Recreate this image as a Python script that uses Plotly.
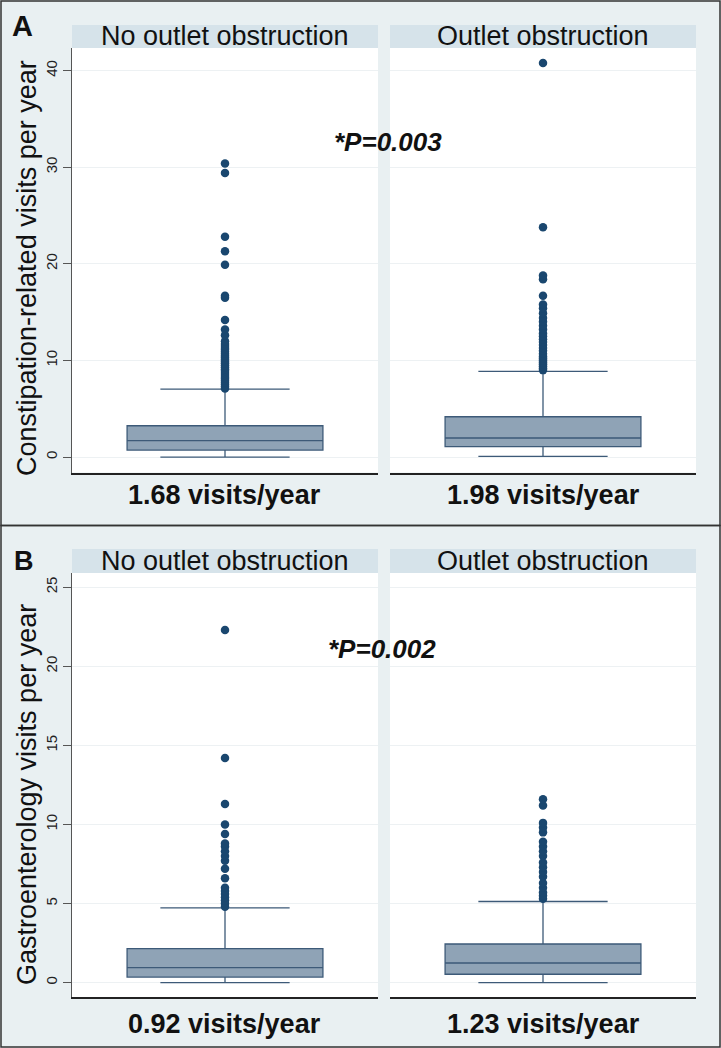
import plotly.graph_objects as go

# ---------------- data ----------------
groups = ["No outlet obstruction", "Outlet obstruction"]

# Panel A: constipation-related visits per year
a_q1 = [0.72, 1.07]
a_median = [1.69, 1.97]
a_q3 = [3.24, 4.17]
a_lower = [0.0, 0.07]
a_upper = [7.04, 8.87]
a_outliers_no = [7.1, 7.3, 7.5, 7.7, 7.9, 8.1, 8.3, 8.5, 8.7, 8.9, 9.1, 9.3, 9.5, 9.7,
                 9.9, 10.1, 10.3, 10.5, 10.7, 10.9, 11.1, 11.3, 11.5, 11.7, 12.0, 12.6,
                 13.2, 14.2, 16.5, 16.7, 19.9, 21.3, 22.8, 29.4, 30.4]
a_outliers_yes = [9.0, 9.2, 9.4, 9.6, 9.8, 10.0, 10.2, 10.4, 10.7, 11.0, 11.3, 11.6,
                  11.9, 12.2, 12.5, 12.8, 13.2, 13.6, 14.0, 14.4, 14.9, 15.4, 15.8,
                  16.7, 18.4, 18.8, 23.8, 40.8]
a_means_text = ["1.68 visits/year", "1.98 visits/year"]
a_p = "*P=0.003"
a_ticks = [0, 10, 20, 30, 40]

# Panel B: gastroenterology visits per year
b_q1 = [0.35, 0.53]
b_median = [0.95, 1.24]
b_q3 = [2.15, 2.44]
b_lower = [0.0, 0.0]
b_upper = [4.72, 5.13]
b_outliers_no = [4.8, 5.0, 5.2, 5.4, 5.6, 5.8, 6.0, 6.6, 7.2, 7.7, 8.0, 8.3, 8.6, 8.8,
                 9.4, 10.0, 11.3, 14.2, 22.3]
b_outliers_yes = [5.3, 5.5, 5.7, 6.0, 6.3, 6.7, 7.0, 7.3, 7.6, 8.0, 8.3, 8.6, 8.9,
                  9.5, 9.8, 10.1, 11.2, 11.6]
b_means_text = ["0.92 visits/year", "1.23 visits/year"]
b_p = "*P=0.002"
b_ticks = [0, 5, 10, 15, 20, 25]

a_title = "Constipation-related visits per year"
b_title = "Gastroenterology visits per year"
panel_labels = ["A", "B"]

# ---------------- layout helpers ----------------
W, H = 721, 1048
BG = "#e9f0f2"
STRIP = "#d6e3ea"
BOXFILL = "#8fa3b6"
BOXLINE = "#3d5a78"
MARK = "#1a476f"
GRID = "#edf1f3"
FONT = "Liberation Sans, Arial"

def px_x(p):
    return p / W

def px_y(p):
    return 1 - p / H

cols_px = [(72, 378), (390, 696)]
rows_px = [(48, 472.5), (573, 997)]
strip_px = [(25, 48), (549, 573)]

panels = [
    dict(q1=a_q1, med=a_median, q3=a_q3, lo=a_lower, up=a_upper,
         outs=[a_outliers_no, a_outliers_yes], means=a_means_text, p=a_p,
         ticks=a_ticks, rng=[-1.6, 42.35], title=a_title, title_size=27,
         title_y=268, mean_y=495, p_xy=(387.5, 142), letter_xy=(22, 25.5), letter_size=29),
    dict(q1=b_q1, med=b_median, q3=b_q3, lo=b_lower, up=b_upper,
         outs=[b_outliers_no, b_outliers_yes], means=b_means_text, p=b_p,
         ticks=b_ticks, rng=[-0.91, 25.9], title=b_title, title_size=27,
         title_y=795, mean_y=1024, p_xy=(382, 649), letter_xy=(23.5, 561), letter_size=27),
]

fig = go.Figure()
annotations = []
shapes = []
axis_n = 0
for r, pnl in enumerate(panels):
    for c in range(2):
        axis_n += 1
        xa = "x" if axis_n == 1 else f"x{axis_n}"
        ya = "y" if axis_n == 1 else f"y{axis_n}"
        xkey = "xaxis" if axis_n == 1 else f"xaxis{axis_n}"
        ykey = "yaxis" if axis_n == 1 else f"yaxis{axis_n}"
        fig.add_trace(go.Box(
            x=[0], q1=[pnl["q1"][c]], median=[pnl["med"][c]], q3=[pnl["q3"][c]],
            lowerfence=[pnl["lo"][c]], upperfence=[pnl["up"][c]],
            width=0.64, whiskerwidth=0.66, boxpoints=False,
            fillcolor=BOXFILL, line=dict(color=BOXLINE, width=1.3),
            xaxis=xa, yaxis=ya, showlegend=False, hoverinfo="skip"))
        fig.add_trace(go.Scatter(
            x=[0] * len(pnl["outs"][c]), y=pnl["outs"][c], mode="markers",
            marker=dict(color=MARK, size=8.5),
            xaxis=xa, yaxis=ya, showlegend=False, hoverinfo="skip"))
        x0, x1 = cols_px[c]
        y0, y1 = rows_px[r]
        fig.update_layout({
            xkey: dict(domain=[px_x(x0), px_x(x1)], range=[-0.5, 0.5],
                       showticklabels=False, ticks="", showgrid=False,
                       zeroline=False, showline=True, linecolor="#222222",
                       linewidth=1.5, anchor=ya, fixedrange=True),
            ykey: dict(domain=[px_y(y1), px_y(y0)], range=pnl["rng"],
                       tickvals=pnl["ticks"], ticktext=[str(t) for t in pnl["ticks"]],
                       showticklabels=(c == 0), tickangle=-90,
                       ticks="outside" if c == 0 else "", ticklen=8,
                       tickcolor="#555555",
                       tickfont=dict(family=FONT, size=15, color="#222222"),
                       showgrid=True, gridcolor=GRID, gridwidth=1,
                       zeroline=False, showline=(c == 0), linecolor="#555555",
                       linewidth=1, anchor=xa, fixedrange=True),
        })
        # strip header
        s0, s1 = strip_px[r]
        shapes.append(dict(type="rect", xref="paper", yref="paper",
                           x0=px_x(x0), x1=px_x(x1), y0=px_y(s1), y1=px_y(s0),
                           fillcolor=STRIP, line=dict(width=0), layer="below"))
        annotations.append(dict(text=groups[c], xref="paper", yref="paper",
                                x=px_x((x0 + x1) / 2), y=px_y((s0 + s1) / 2),
                                xanchor="center", yanchor="middle", showarrow=False,
                                font=dict(family=FONT, size=27, color="#111111")))
        # mean text under each plot
        annotations.append(dict(text="<b>" + pnl["means"][c] + "</b>", xref="paper", yref="paper",
                                x=px_x((x0 + x1) / 2), y=px_y(pnl["mean_y"]),
                                xanchor="center", yanchor="middle", showarrow=False,
                                font=dict(family=FONT, size=27, color="#111111")))
    # p value
    pxc, py = pnl["p_xy"]
    annotations.append(dict(text="<b><i>" + pnl["p"] + "</i></b>", xref="paper", yref="paper",
                            x=px_x(pxc), y=px_y(py), xanchor="center", yanchor="middle",
                            showarrow=False,
                            font=dict(family=FONT, size=26, color="#111111")))
    # y axis title
    annotations.append(dict(text=pnl["title"], xref="paper", yref="paper",
                            x=px_x(27), y=px_y(pnl["title_y"]), textangle=-90,
                            xanchor="center", yanchor="middle", showarrow=False,
                            font=dict(family=FONT, size=pnl["title_size"], color="#111111")))
    # panel letter
    lx, ly = pnl["letter_xy"]
    annotations.append(dict(text="<b>" + panel_labels[r] + "</b>", xref="paper", yref="paper",
                            x=px_x(lx), y=px_y(ly), xanchor="center", yanchor="middle",
                            showarrow=False,
                            font=dict(family=FONT, size=pnl["letter_size"], color="#111111")))

# panel borders
shapes.append(dict(type="rect", xref="paper", yref="paper",
                   x0=px_x(1), x1=px_x(720), y0=px_y(525.5), y1=px_y(1),
                   line=dict(color="#333333", width=1.5), layer="above"))
shapes.append(dict(type="rect", xref="paper", yref="paper",
                   x0=px_x(1), x1=px_x(720), y0=px_y(1047), y1=px_y(525.5),
                   line=dict(color="#333333", width=1.5), layer="above"))

fig.update_layout(
    width=W, height=H, margin=dict(l=0, r=0, t=0, b=0),
    paper_bgcolor=BG, plot_bgcolor="white",
    shapes=shapes, annotations=annotations, showlegend=False,
)

fig.write_html("out.html", config={"displayModeBar": False},
               post_script="document.body.style.margin='0';document.body.style.overflow='hidden';")
